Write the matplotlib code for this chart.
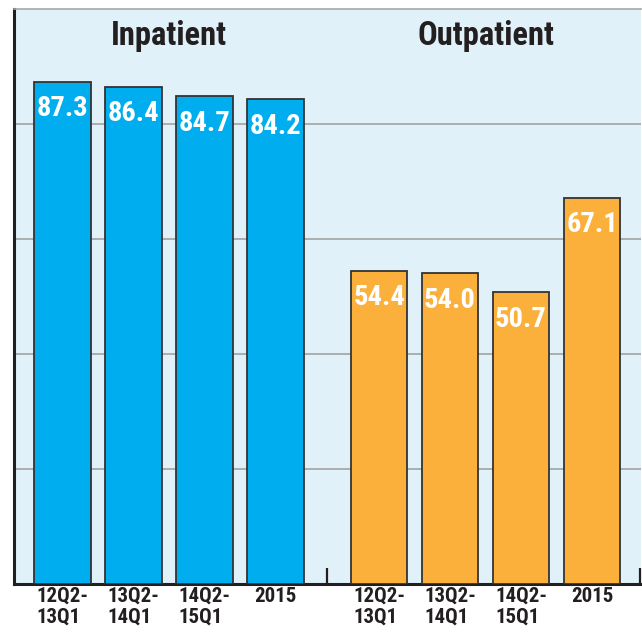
import matplotlib
matplotlib.use("Agg")
import matplotlib.pyplot as plt
import numpy as np

groups = ["Inpatient", "Outpatient"]
periods = ["12Q2-\n13Q1", "13Q2-\n14Q1", "14Q2-\n15Q1", "2015"]
inpatient = [87.3, 86.4, 84.7, 84.2]
outpatient = [54.4, 54.0, 50.7, 67.1]
value_labels_in = ["87.3", "86.4", "84.7", "84.2"]
value_labels_out = ["54.4", "54.0", "50.7", "67.1"]

FONT = ["Roboto Condensed", "DejaVu Sans"]
plt.rcParams['font.family'] = FONT

fig = plt.figure(figsize=(6.42, 6.33), dpi=100)
ax = fig.add_axes([14/642, (633-583.5)/633, 627/642, (583.5-8.5)/633])
ax.set_facecolor("#E0F1F9")

group_shift = 4.46
colors = ["#00AEEF", "#FBB03B"]
series = [inpatient, outpatient]
vlabels = [value_labels_in, value_labels_out]
ticks, ticklabels = [], []
for g, (vals, col, labs) in enumerate(zip(series, colors, vlabels)):
    x = np.arange(len(vals)) + g * group_shift
    ax.bar(x, vals, width=0.80, color=col, edgecolor="#333333", linewidth=1.3, zorder=3)
    for xi, v, lab in zip(x, vals, labs):
        ax.annotate(lab, (xi, v), xytext=(0, -19.5), textcoords="offset points",
                    ha="center", va="center", color="white", fontsize=20.5,
                    fontweight="bold", zorder=4)
    ticks.extend(x)
    ticklabels.extend(periods)
    ax.text(np.mean(x), 95.3, groups[g], ha="center", va="center",
            fontsize=23.5, fontweight="bold", color="#231F20")

ax.set_xlim(-0.683, 8.15)
ax.set_ylim(0, 100)
ax.set_yticks([20, 40, 60, 80])
ax.yaxis.grid(True, color="#A8A8A8", linewidth=1.3, zorder=0)
ax.set_axisbelow(True)
ax.tick_params(axis="y", length=0, labelleft=False)
ax.set_xticks(ticks)
ax.set_xticklabels(ticklabels, fontsize=15, fontweight="bold", color="#231F20",
                   multialignment="left", linespacing=1.08)
ax.tick_params(axis="x", length=0, pad=2.5)
ax.set_xticks([3.725, 8.13], minor=True)
ax.tick_params(axis="x", which="minor", direction="in", length=11.5, width=1.6, color="#231F20")

for s in ["left", "bottom"]:
    ax.spines[s].set_color("#231F20")
    ax.spines[s].set_linewidth(2.2)
ax.spines["right"].set_visible(False)
ax.spines["top"].set_color("#A8A8A8")
ax.spines["top"].set_linewidth(1.2)

fig.savefig("out.png", dpi=100)
